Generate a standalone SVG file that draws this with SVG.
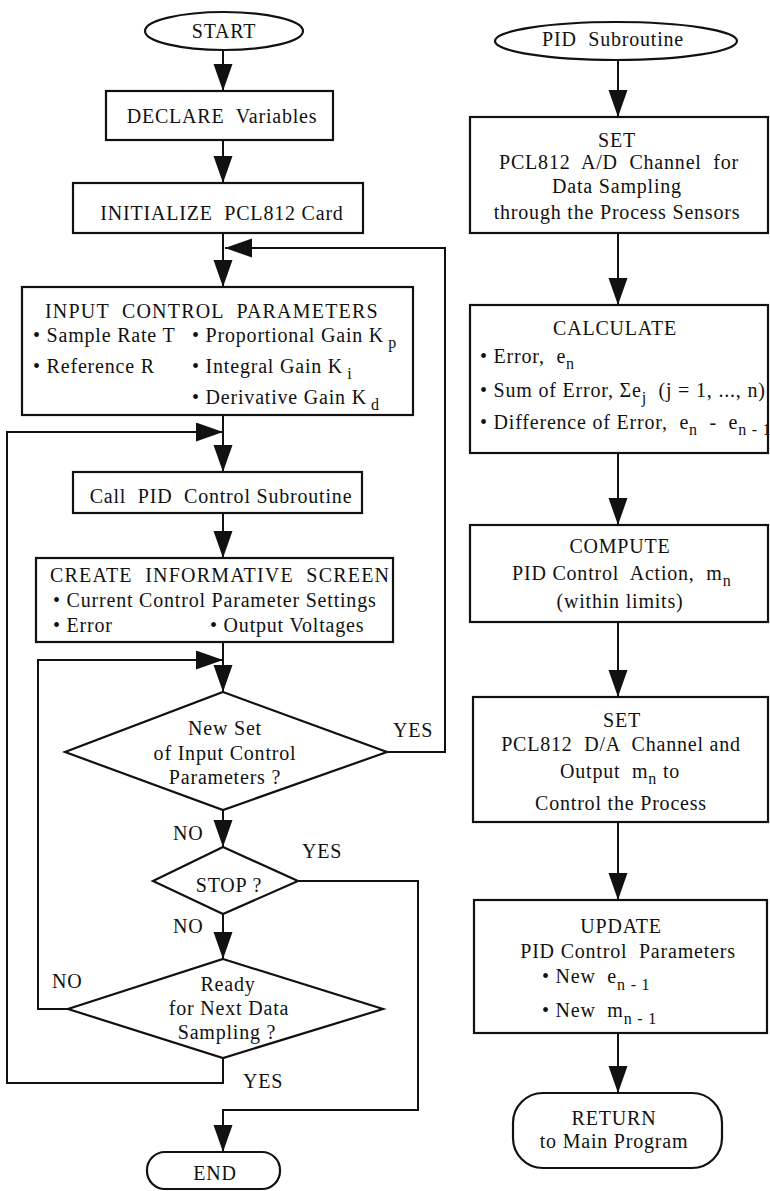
<svg xmlns="http://www.w3.org/2000/svg" width="770" height="1191" viewBox="0 0 770 1191">
  <style>
    .box { fill: #fff; stroke: #111; stroke-width: 2.2; }
    .wire { fill: none; stroke: #111; stroke-width: 2; }
    text { font-family: "Liberation Serif", "Times New Roman", serif; font-size: 20px; fill: #111; letter-spacing: 0.8px; }
    .c { text-anchor: middle; }
    .sub { font-size: 16px; }
    .wide { letter-spacing: 1.2px; }
  </style>
  <defs>
    <marker id="arrow" markerUnits="userSpaceOnUse" markerWidth="28" markerHeight="20" refX="27" refY="9.5" orient="auto">
      <path d="M0,0 L27,9.5 L0,19 z" fill="#111"/>
    </marker>
  </defs>
  <rect width="770" height="1191" fill="#fff"/>

  <!-- connectors -->
  <g id="connectors">
    <!-- main program -->
    <line class="wire" x1="223" y1="50" x2="223" y2="91" marker-end="url(#arrow)"/>
    <line class="wire" x1="223" y1="140" x2="223" y2="183" marker-end="url(#arrow)"/>
    <line class="wire" x1="223" y1="233" x2="223" y2="287" marker-end="url(#arrow)"/>
    <line class="wire" x1="223" y1="415" x2="223" y2="472" marker-end="url(#arrow)"/>
    <line class="wire" x1="223" y1="513" x2="223" y2="558" marker-end="url(#arrow)"/>
    <line class="wire" x1="223" y1="642" x2="223" y2="692" marker-end="url(#arrow)"/>
    <line class="wire" x1="223" y1="810" x2="223" y2="847" marker-end="url(#arrow)"/>
    <line class="wire" x1="223" y1="914" x2="223" y2="959" marker-end="url(#arrow)"/>
    <!-- new parameters: back to input -->
    <polyline class="wire" points="387,752 445,752 445,248 225,248" marker-end="url(#arrow)"/>
    <!-- not ready: wait loop -->
    <polyline class="wire" points="68,1009 38,1009 38,660 223,660" marker-end="url(#arrow)"/>
    <!-- ready: next sample -->
    <polyline class="wire" points="223,1058 223,1083 7,1083 7,432 223,432" marker-end="url(#arrow)"/>
    <!-- stop -->
    <polyline class="wire" points="298,881 418,881 418,1110 223,1110 223,1152" marker-end="url(#arrow)"/>
    <!-- subroutine -->
    <line class="wire" x1="618" y1="60" x2="618" y2="117" marker-end="url(#arrow)"/>
    <line class="wire" x1="618" y1="233" x2="618" y2="305" marker-end="url(#arrow)"/>
    <line class="wire" x1="618" y1="453" x2="618" y2="525" marker-end="url(#arrow)"/>
    <line class="wire" x1="618" y1="622" x2="618" y2="697" marker-end="url(#arrow)"/>
    <line class="wire" x1="618" y1="822" x2="618" y2="900" marker-end="url(#arrow)"/>
    <line class="wire" x1="618" y1="1033" x2="618" y2="1093" marker-end="url(#arrow)"/>
  </g>

  <!-- main program nodes -->
  <g id="start">
    <ellipse class="box" cx="224" cy="31" rx="79" ry="19"/>
    <text class="c" x="224" y="38">START</text>
  </g>
  <g id="declare">
    <rect class="box" x="106" y="91" width="227" height="49"/>
    <text class="c" x="222" y="123" xml:space="preserve">DECLARE  Variables</text>
  </g>
  <g id="initialize">
    <rect class="box" x="73" y="183" width="290" height="50"/>
    <text class="c" x="222" y="220" xml:space="preserve">INITIALIZE  PCL812 Card</text>
  </g>
  <g id="input-parameters">
    <rect class="box" x="22" y="287" width="391" height="128"/>
    <text class="wide" x="45" y="318" xml:space="preserve">INPUT  CONTROL  PARAMETERS</text>
    <text x="33" y="342">• Sample Rate T</text>
    <text x="192" y="342">• Proportional Gain K<tspan class="sub" dx="4" dy="6">p</tspan></text>
    <text x="33" y="373">• Reference R</text>
    <text x="192" y="373">• Integral Gain K<tspan class="sub" dx="4" dy="6">i</tspan></text>
    <text x="192" y="404">• Derivative Gain K<tspan class="sub" dx="4" dy="6">d</tspan></text>
  </g>
  <g id="call-pid">
    <rect class="box" x="73" y="472" width="289" height="41"/>
    <text class="c" x="221" y="503" xml:space="preserve">Call  PID  Control Subroutine</text>
  </g>
  <g id="info-screen">
    <rect class="box" x="36" y="558" width="357" height="84"/>
    <text class="wide" x="50" y="582" xml:space="preserve">CREATE  INFORMATIVE  SCREEN</text>
    <text x="53" y="607">• Current Control Parameter Settings</text>
    <text x="53" y="632">• Error</text>
    <text x="210" y="632">• Output Voltages</text>
  </g>
  <g id="new-parameters">
    <polygon class="box" points="223,692 387,752 223,810 65,752"/>
    <text class="c" x="225" y="735">New Set</text>
    <text class="c" x="225" y="760">of Input Control</text>
    <text class="c" x="225" y="784">Parameters ?</text>
  </g>
  <g id="stop">
    <polygon class="box" points="223,847 298,881 223,914 153,881"/>
    <text class="c" x="229" y="892">STOP ?</text>
  </g>
  <g id="ready">
    <polygon class="box" points="223,959 383,1009 223,1058 68,1009"/>
    <text class="c" x="228" y="991">Ready</text>
    <text class="c" x="229" y="1015">for Next Data</text>
    <text class="c" x="227" y="1039">Sampling ?</text>
  </g>
  <g id="end">
    <rect class="box" x="147" y="1152" width="133" height="37" rx="18"/>
    <text class="c" x="215" y="1180">END</text>
  </g>

  <!-- branch labels -->
  <g id="labels">
    <text x="393" y="737">YES</text>
    <text x="173" y="840">NO</text>
    <text x="302" y="858">YES</text>
    <text x="173" y="933">NO</text>
    <text x="52" y="988">NO</text>
    <text x="243" y="1088">YES</text>
  </g>

  <!-- PID subroutine nodes -->
  <g id="pid-subroutine">
    <ellipse class="box" cx="616" cy="41" rx="121" ry="19"/>
    <text class="c" x="613" y="46" xml:space="preserve">PID  Subroutine</text>
  </g>
  <g id="set-ad">
    <rect class="box" x="470" y="117" width="298" height="116"/>
    <text class="c" x="617" y="147">SET</text>
    <text class="c" x="619" y="169" xml:space="preserve">PCL812  A/D  Channel  for</text>
    <text class="c" x="617" y="193">Data Sampling</text>
    <text class="c" x="617" y="219">through the Process Sensors</text>
  </g>
  <g id="calculate">
    <rect class="box" x="470" y="305" width="298" height="148"/>
    <text class="c" x="615" y="335">CALCULATE</text>
    <text x="480" y="363" xml:space="preserve">• Error,  e<tspan class="sub" dy="6">n</tspan></text>
    <text x="480" y="397" xml:space="preserve">• Sum of Error, Σe<tspan class="sub" dy="6">j</tspan><tspan dy="-6">  (j = 1, ..., n)</tspan></text>
    <text x="480" y="429" xml:space="preserve">• Difference of Error,  e<tspan class="sub" dy="6">n</tspan><tspan dy="-6">  -  e</tspan><tspan class="sub" dy="6">n - 1</tspan></text>
  </g>
  <g id="compute">
    <rect class="box" x="470" y="525" width="298" height="97"/>
    <text class="c" x="620" y="553">COMPUTE</text>
    <text x="512" y="580" xml:space="preserve">PID Control  Action,  m<tspan class="sub" dy="6">n</tspan></text>
    <text class="c" x="620" y="608">(within limits)</text>
  </g>
  <g id="set-da">
    <rect class="box" x="473" y="697" width="295" height="125"/>
    <text class="c" x="622" y="727">SET</text>
    <text class="c" x="621" y="751" xml:space="preserve">PCL812  D/A  Channel and</text>
    <text x="560" y="778" xml:space="preserve">Output  m<tspan class="sub" dy="6">n</tspan><tspan dy="-6"> to</tspan></text>
    <text class="c" x="621" y="810">Control the Process</text>
  </g>
  <g id="update">
    <rect class="box" x="474" y="900" width="293" height="133"/>
    <text class="c" x="621" y="933">UPDATE</text>
    <text class="c" x="628" y="958" xml:space="preserve">PID Control  Parameters</text>
    <text x="542" y="983" xml:space="preserve">• New  e<tspan class="sub" dy="7">n - 1</tspan></text>
    <text x="542" y="1017" xml:space="preserve">• New  m<tspan class="sub" dy="7">n - 1</tspan></text>
  </g>
  <g id="return">
    <rect class="box" x="513" y="1093" width="209" height="75" rx="30"/>
    <text class="c" x="614" y="1125">RETURN</text>
    <text class="c" x="614" y="1148">to Main Program</text>
  </g>
</svg>
